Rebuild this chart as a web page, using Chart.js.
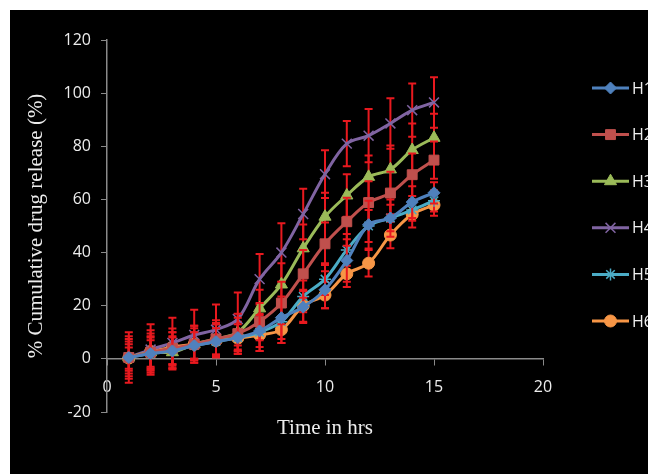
<!DOCTYPE html>
<html>
<head>
<meta charset="utf-8">
<script src="https://cdn.jsdelivr.net/npm/chart.js@4.4.1/dist/chart.umd.min.js"></script>
<style>
body{margin:0;background:#fff;}
#wrap{position:absolute;left:10px;top:10px;width:638px;height:464px;background:#000;overflow:hidden;}
</style>
</head>
<body>
<div id="wrap"><canvas id="releaseChart" width="638" height="464"></canvas></div>
<script>
// Cumulative drug release

const hours = [1,2,3,4,5,6,7,8,9,10,11,12,13,14,15];

const seriesNames = ["H1","H2","H3","H4","H5","H6"];

const h1 = [0.5,2,3,5,6.5,8,10.5,15.5,19.5,26,37,50.5,53,59,62.5];
const h2 = [0.5,2.5,4,5.5,7.5,9.5,14,21,32,43.3,51.6,58.8,62.4,69.3,74.8];
const h3 = [0.5,2.5,2.5,5.5,7.5,10,19,28,41.6,53.5,61.5,68.5,71.3,78.6,83.2];
const h4 = [0.5,3.5,6,9,11,15,30,40,54.5,69.5,81,84,88.6,93.6,96.5];
const h5 = [0.5,2,3,5,6.5,8,10,14,23.5,30,41,50,53,56,59.5];
const h6 = [0.3,2.8,4.4,5.5,6.9,7.8,9,11,20,24,32,36,46.6,54.4,57.9];

// standard deviation (error bars)
const h1Err = [6,5,5,5,5,5,6,8,6,7,8,9,7,6,4];
const h2Err = [7,6,6,6,6,6,7,8,9,8,9,8,8,8,7];
const h3Err = [8,7,6,7,7,7,7,8,9,9,8,8,9,10,9];
const h4Err = [9.5,9.5,9.5,9.5,9.5,10,9.5,11,9.5,9,8.5,10,9.5,10,9.5];
const h5Err = [5,6,7,5,5,6,7,8,6,6,6,6,5,4,4];
const h6Err = [4,8,7,7,6,6,6,5,6,5,5,5,5,5,4];

const xTicks = [0,5,10,15,20];
const yTicks = [-20,0,20,40,60,80,100,120];

const values = [h1,h2,h3,h4,h5,h6];
const errors = [h1Err,h2Err,h3Err,h4Err,h5Err,h6Err];

const colors = ["#4f81bd","#c0504d","#9bbb59","#8064a2","#4bacc6","#f79646"];
const markers = ["rectRot","rect","triangle","crossRot","star","circle"];
const markerSize = [6,7,7,7,6,6];

const errorBars = {
    id:"errorBars",
    beforeDatasetDraw(chart, args){
        const i = args.index;
        const err = errors[i];
        const vals = values[i];
        const x = chart.scales.x;
        const y = chart.scales.y;
        const ctx = chart.ctx;
        ctx.save();
        ctx.strokeStyle = "#e8191f";
        ctx.lineWidth = 2;
        ctx.beginPath();
        hours.forEach((h, k) => {
            const px = x.getPixelForValue(h);
            const top = y.getPixelForValue(vals[k] + err[k]);
            const bot = y.getPixelForValue(vals[k] - err[k]);
            ctx.moveTo(px, top);
            ctx.lineTo(px, bot);
            ctx.moveTo(px - 4, top);
            ctx.lineTo(px + 4, top);
            ctx.moveTo(px - 4, bot);
            ctx.lineTo(px + 4, bot);
        });
        ctx.stroke();
        ctx.restore();
    }
};

const sideLegend = {
    id:"sideLegend",
    afterDraw(chart){
        const ctx = chart.ctx;
        ctx.save();
        chart.data.datasets.forEach((ds, i) => {
            const y = 78 + i * 46.6;
            ctx.strokeStyle = ds.borderColor;
            ctx.lineWidth = 3;
            ctx.beginPath();
            ctx.moveTo(582, y);
            ctx.lineTo(619, y);
            ctx.stroke();
            ctx.fillStyle = ds.pointBackgroundColor;
            ctx.strokeStyle = ds.pointBorderColor;
            ctx.lineWidth = ds.pointBorderWidth;
            Chart.helpers.drawPoint(ctx, {pointStyle:ds.pointStyle, radius:ds.pointRadius, rotation:0, borderWidth:ds.pointBorderWidth}, 600.5, y);
            ctx.fillStyle = "#f0f0f0";
            ctx.font = "16px 'Open Sans'";
            ctx.textBaseline = "middle";
            ctx.fillText(ds.label, 622, y + 1);
        });
        ctx.restore();
    }
};

new Chart(
document.getElementById("releaseChart"),
{
    type:"line",

    data:{
        datasets: seriesNames.map((name, i) => ({
            label:name,
            data: hours.map((h, k) => ({x:h, y:values[i][k]})),
            borderColor:colors[i],
            backgroundColor:colors[i],
            borderWidth:3,
            tension:0.35,
            pointStyle:markers[i],
            pointRadius:markerSize[i],
            pointBackgroundColor:colors[i],
            pointBorderColor:colors[i],
            pointBorderWidth:markers[i] === "crossRot" || markers[i] === "star" ? 1.5 : 1
        }))
    },

    options:{
        responsive:false,
        animation:false,
        clip:false,
        layout:{padding:{left:0, right:105, top:30, bottom:62}},
        plugins:{
            legend:{display:false},
            tooltip:{enabled:false}
        },
        scales:{
            x:{
                type:"linear",
                position:{y:0},
                min:0,
                max:20,
                afterBuildTicks(scale){ scale.ticks = xTicks.map(v => ({value:v})); },
                afterFit(scale){ scale.height = 82; },
                grid:{drawOnChartArea:false, drawTicks:true, tickLength:6, color:"#8a8a8a"},
                border:{display:true, color:"#8a8a8a", width:1.5},
                ticks:{color:"#ececec", padding:13, font:{family:"'Open Sans'", size:16}},
                title:{display:true, text:"Time in hrs", color:"#ececec", padding:0, font:{family:"'Liberation Serif'", size:21}}
            },
            y:{
                type:"linear",
                position:"left",
                min:-20,
                max:120,
                afterBuildTicks(scale){ scale.ticks = yTicks.map(v => ({value:v})); },
                afterFit(scale){ scale.width = 97; },
                grid:{drawOnChartArea:false, drawTicks:true, tickLength:6, color:"#8a8a8a"},
                border:{display:true, color:"#8a8a8a", width:1.5},
                ticks:{color:"#ececec", padding:10, font:{family:"'Open Sans'", size:16}},
                title:{display:true, text:"% Cumulative drug release (%)", color:"#ececec", padding:{top:14}, font:{family:"'Liberation Serif'", size:21}}
            }
        }
    },

    plugins:[errorBars, sideLegend]
});
</script>
</body>
</html>
